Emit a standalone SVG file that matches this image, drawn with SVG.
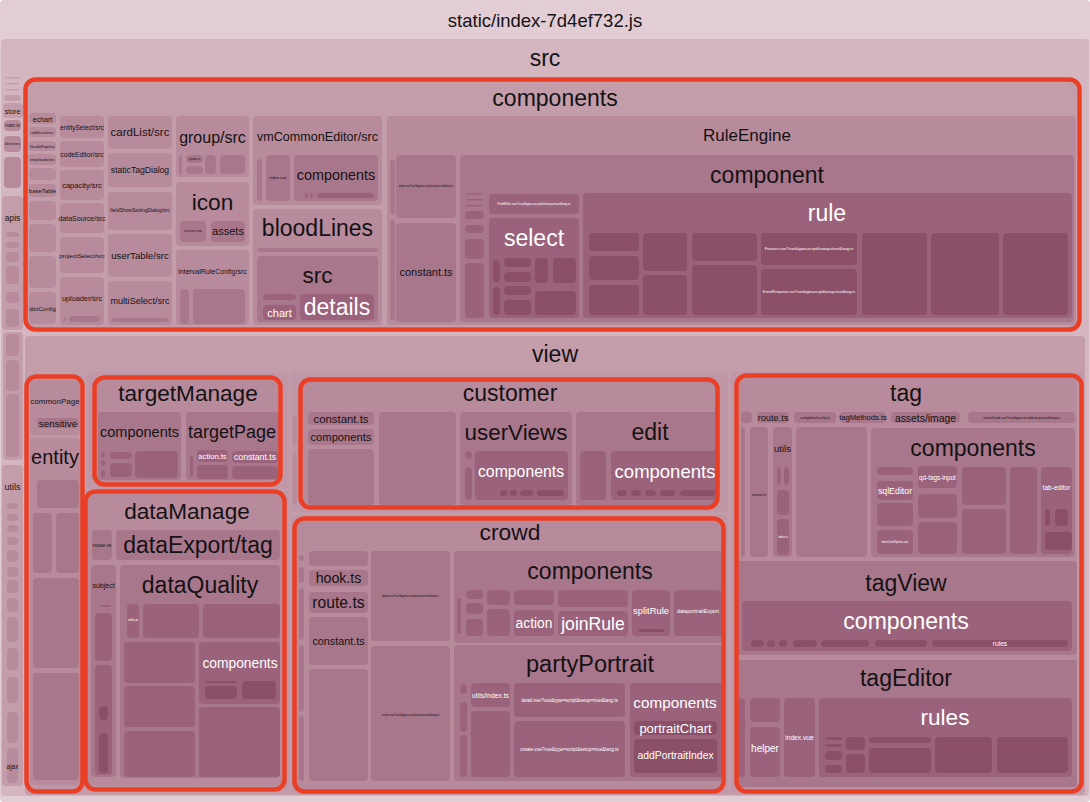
<svg xmlns="http://www.w3.org/2000/svg" width="1090" height="802" viewBox="0 0 1090 802">
<style>
rect{rx:4px;ry:4px}
.c0{fill:#e2cdd4}.c1{fill:#d4b6c0}.c2{fill:#c49dab}.c2b{fill:#bf97a6}.c3{fill:#b88b9c}.c4{fill:#a9778b}.c5{fill:#9b637b}.c6{fill:#8b5068}.c7{fill:#7e4560}
.hl{fill:none;stroke:#ea3f25;stroke-width:4.5;rx:10px;ry:10px}
text{font-family:"Liberation Sans",Arial,sans-serif;text-anchor:middle;dominant-baseline:central;fill:#141214}
.w{fill:#ffffff}
</style>
<rect class="c0" x="0" y="0" width="1090" height="802" rx="0"/>
<g id="bundle">
<text x="545" y="20" font-size="18.5">static/index-7d4ef732.js</text>
</g>
<g id="src">
<rect class="c1" x="1" y="39" width="1088" height="757"/>
<text x="545" y="58" font-size="23">src</text>
</g>
<g id="src-strip">
<rect class="c2" x="5" y="77" width="15" height="1.5"/>
<rect class="c2" x="5" y="83" width="15" height="1.5"/>
<rect class="c2" x="5" y="89" width="15" height="1.5"/>
<rect class="c2" x="4" y="95" width="17" height="6"/>
<rect class="c2" x="3" y="103" width="20" height="15"/>
<text x="12.5" y="111" font-size="7">store</text>
<rect class="c3" x="4" y="120" width="17" height="11"/>
<text x="12.5" y="125.5" font-size="4.5">main.ts</text>
<rect class="c3" x="4" y="136" width="17" height="16"/>
<text x="12.5" y="144" font-size="3.5">directives</text>
<rect class="c3" x="4" y="157" width="17" height="31"/>
<rect class="c2" x="2" y="196" width="21" height="134"/>
<text x="12.5" y="218" font-size="8.5">apis</text>
<rect class="c3" x="6" y="232" width="13" height="5"/>
<rect class="c3" x="6" y="242" width="13" height="6"/>
<rect class="c3" x="6" y="252" width="13" height="10"/>
<rect class="c3" x="6" y="266" width="13" height="18"/>
<rect class="c3" x="6" y="292" width="13" height="11"/>
<rect class="c3" x="6" y="309" width="13" height="18"/>
<rect class="c2" x="3" y="332" width="20" height="128"/>
<rect class="c3" x="6" y="334" width="13" height="22"/>
<rect class="c3" x="6" y="360" width="13" height="31"/>
<rect class="c3" x="6" y="394" width="13" height="63"/>
<rect class="c2" x="2" y="465" width="21" height="321"/>
<text x="12.5" y="487" font-size="9">utils</text>
<rect class="c3" x="7" y="503" width="11" height="6"/>
<rect class="c3" x="7" y="514" width="11" height="7"/>
<rect class="c3" x="7" y="525" width="11" height="7"/>
<rect class="c3" x="7" y="537" width="11" height="8"/>
<rect class="c3" x="7" y="550" width="11" height="12"/>
<rect class="c3" x="7" y="567" width="11" height="10"/>
<rect class="c3" x="7" y="580" width="11" height="13"/>
<rect class="c3" x="7" y="598" width="11" height="14"/>
<rect class="c3" x="7" y="617" width="11" height="25"/>
<rect class="c3" x="7" y="648" width="11" height="22"/>
<rect class="c3" x="7" y="677" width="11" height="26"/>
<rect class="c3" x="7" y="712" width="11" height="31"/>
<rect class="c3" x="7" y="748" width="11" height="35"/>
<text x="12.5" y="766" font-size="6.5">ajax</text>
</g>
<g id="components">
<rect class="c2" x="27" y="81" width="1050" height="246"/>
<text x="555" y="98" font-size="23">components</text>
<g id="col1">
<rect class="c3" x="29" y="113" width="27" height="11"/><text x="42.5" y="119" font-size="7">echart</text>
<rect class="c3" x="29" y="127" width="27" height="10"/><text x="42.5" y="132" font-size="4.4">editIcon/src</text>
<rect class="c3" x="29" y="141" width="27" height="10"/><text x="42.5" y="146" font-size="4.2">GuidePop/src</text>
<rect class="c3" x="29" y="154" width="27" height="11"/><text x="42.5" y="159.5" font-size="4">stepGuide/src</text>
<rect class="c3" x="29" y="168" width="27" height="12"/>
<rect class="c3" x="29" y="184" width="27" height="13"/><text x="42.5" y="190.5" font-size="6">baseTable</text>
<rect class="c3" x="29" y="201" width="27" height="19"/>
<rect class="c3" x="29" y="224" width="27" height="28"/>
<rect class="c3" x="29" y="256" width="27" height="32"/>
<rect class="c3" x="29" y="292" width="27" height="32"/><text x="42.5" y="309" font-size="6">dictConfig</text>
</g>
<g id="col2">
<rect class="c3" x="60" y="116" width="44" height="22"/><text x="82" y="127" font-size="6.5">entitySelect/src</text>
<rect class="c3" x="60" y="141" width="44" height="26"/><text x="82" y="154" font-size="6.8">codeEditor/src</text>
<rect class="c3" x="60" y="170" width="44" height="30"/><text x="82" y="185" font-size="7.5">capacity/src</text>
<rect class="c3" x="60" y="203" width="44" height="30"/><text x="82" y="218" font-size="7">dataSource/src</text>
<rect class="c3" x="60" y="237" width="44" height="36"/><text x="82" y="255" font-size="6.2">projectSelect/src</text>
<rect class="c3" x="60" y="277" width="44" height="48"/><text x="82" y="298" font-size="7.3">uploader/src</text>
<rect class="c4" x="64" y="317" width="2" height="4"/>
<rect class="c4" x="69" y="316" width="31" height="6"/>
</g>
<g id="col3">
<rect class="c3" x="108" y="116" width="64" height="33"/><text x="140" y="132" font-size="11.5">cardList/src</text>
<rect class="c3" x="108" y="153" width="64" height="34"/><text x="140" y="170" font-size="8.6">staticTagDialog</text>
<rect class="c3" x="108" y="192" width="64" height="38"/><text x="140" y="210" font-size="5">fieldShowSettingDialog/src</text>
<rect class="c3" x="108" y="234" width="64" height="43"/><text x="140" y="255" font-size="9.7">userTable/src</text>
<rect class="c3" x="108" y="281" width="64" height="44"/><text x="140" y="301" font-size="9.1">multiSelect/src</text>
<rect class="c4" x="112" y="318" width="56" height="4"/>
</g>
<g id="col4">
<rect class="c3" x="176" y="116" width="73" height="61"/><text x="212.5" y="137" font-size="16">group/src</text>
<rect class="c4" x="179" y="155" width="3" height="20"/>
<rect class="c4" x="186" y="155" width="17" height="8"/><text x="194.5" y="159" font-size="3.2">group.ts</text>
<rect class="c4" x="186" y="166" width="17" height="8"/>
<rect class="c4" x="205" y="155" width="11" height="19"/>
<rect class="c4" x="220" y="155" width="25" height="19"/>
<rect class="c3" x="176" y="182" width="73" height="64"/><text x="212.5" y="202" font-size="22.7">icon</text>
<rect class="c4" x="180" y="221" width="26" height="21"/><text x="193" y="231" font-size="3.3">src/icon.vue</text>
<rect class="c4" x="211" y="221" width="34" height="21"/><text x="228" y="231" font-size="11">assets</text>
<rect class="c3" x="176" y="250" width="73" height="75"/><text x="212.5" y="271" font-size="7">intervalRuleConfig/src</text>
<rect class="c4" x="180" y="289" width="9" height="35"/>
<rect class="c4" x="193" y="289" width="52" height="35"/>
</g>
<g id="vmCommonEditor">
<rect class="c3" x="253" y="116" width="129" height="89"/><text x="317.5" y="137" font-size="12.6">vmCommonEditor/src</text>
<rect class="c4" x="257" y="159" width="5" height="42"/>
<rect class="c4" x="266" y="155" width="24" height="46"/><text x="278" y="177" font-size="4">index.vue</text>
<rect class="c4" x="294" y="155" width="84" height="46"/><text x="336" y="175" font-size="14.4">components</text>
<rect class="c5" x="305" y="193" width="3" height="5"/>
<rect class="c5" x="310" y="193" width="3" height="5"/>
<rect class="c5" x="317" y="193" width="57" height="5"/>
</g>
<g id="bloodLines">
<rect class="c3" x="253" y="209" width="129" height="116"/><text x="317.5" y="228" font-size="23">bloodLines</text>
<rect class="c4" x="257" y="248" width="121" height="4"/>
<rect class="c4" x="257" y="256" width="121" height="66"/><text x="317.5" y="275" font-size="22.5">src</text>
<rect class="c5" x="263" y="294" width="33" height="6"/>
<rect class="c5" x="263" y="305" width="33" height="15"/><text class="w" x="279.5" y="312.5" font-size="11">chart</text>
<rect class="c5" x="300" y="294" width="74" height="26"/><text class="w" x="337" y="307" font-size="23">details</text>
</g>
<g id="RuleEngine">
<rect class="c3" x="387" y="116" width="689" height="209"/><text x="747" y="135" font-size="17">RuleEngine</text>
<rect class="c4" x="390" y="160" width="5" height="55"/>
<rect class="c4" x="390" y="220" width="5" height="100"/>
<rect class="c4" x="396" y="155" width="60" height="63"/><text x="426" y="186" font-size="2.6">index.vue?vue&amp;type=script&amp;setup=true&amp;lang.ts</text>
<rect class="c4" x="396" y="223" width="60" height="99"/><text x="426" y="272" font-size="11">constant.ts</text>
<g id="component">
<rect class="c4" x="460" y="155" width="614" height="167"/><text x="767" y="175" font-size="23">component</text>
<rect class="c5" x="466" y="193" width="17" height="1.5"/>
<rect class="c5" x="466" y="199" width="17" height="1.5"/>
<rect class="c5" x="466" y="205" width="17" height="1.5"/>
<rect class="c5" x="465" y="211" width="19" height="8"/>
<rect class="c5" x="465" y="225" width="19" height="8"/>
<rect class="c5" x="465" y="239" width="19" height="20"/>
<rect class="c5" x="465" y="263" width="19" height="55"/>
<rect class="c5" x="489" y="194" width="90" height="20"/><text class="w" x="534" y="204" font-size="3.2">FieldRule.vue?vue&amp;type=script&amp;setup=true&amp;lang.ts</text>
<g id="select">
<rect class="c5" x="489" y="218" width="90" height="100"/><text class="w" x="534" y="238" font-size="23">select</text>
<rect class="c6" x="493" y="260" width="7" height="22"/>
<rect class="c6" x="493" y="287" width="7" height="28"/>
<rect class="c6" x="504" y="258" width="27" height="9"/>
<rect class="c6" x="504" y="272" width="27" height="10"/>
<rect class="c6" x="504" y="286" width="27" height="9"/>
<rect class="c6" x="504" y="300" width="27" height="15"/>
<rect class="c6" x="535" y="258" width="13" height="25"/>
<rect class="c6" x="553" y="258" width="23" height="25"/>
<rect class="c6" x="535" y="291" width="41" height="24"/>
</g>
<g id="rule">
<rect class="c5" x="583" y="193" width="489" height="125"/><text class="w" x="827" y="213" font-size="23">rule</text>
<rect class="c6" x="589" y="233" width="50" height="18"/>
<rect class="c6" x="589" y="256" width="50" height="24"/>
<rect class="c6" x="589" y="285" width="50" height="30"/>
<rect class="c6" x="643" y="233" width="44" height="38"/>
<rect class="c6" x="643" y="275" width="44" height="40"/>
<rect class="c6" x="692" y="233" width="65" height="28"/>
<rect class="c6" x="692" y="265" width="65" height="50"/>
<rect class="c6" x="761" y="233" width="96" height="32"/><text class="w" x="809" y="248" font-size="4">Feature.vue?vue&amp;type=script&amp;setup=true&amp;lang.ts</text>
<rect class="c6" x="761" y="269" width="96" height="46"/><text class="w" x="809" y="292" font-size="3.6">EventResponse.vue?vue&amp;type=script&amp;setup=true&amp;lang.ts</text>
<rect class="c6" x="862" y="233" width="65" height="82"/>
<rect class="c6" x="931" y="233" width="68" height="82"/>
<rect class="c6" x="1003" y="233" width="65" height="82"/>
</g>
</g>
</g>
</g>
<g id="view">
<rect class="c2" x="25" y="336" width="1060" height="459"/>
<text x="555" y="354" font-size="23">view</text>
</g>
<g id="entity-col">
<rect class="c2b" x="28" y="375" width="56" height="415"/>
<rect class="c3" x="30" y="380" width="50" height="55"/>
<text x="55" y="401" font-size="8">commonPage</text>
<rect class="c4" x="37" y="418" width="42" height="10"/><text x="58" y="423" font-size="9.9">sensitive</text>
<g id="entity">
<rect class="c3" x="30" y="438" width="50" height="347"/><text x="55" y="457" font-size="20">entity</text>
<rect class="c4" x="37" y="480" width="42" height="28"/>
<rect class="c4" x="33" y="513" width="19" height="60"/>
<rect class="c4" x="56" y="513" width="23" height="60"/>
<rect class="c4" x="33" y="578" width="46" height="90"/>
<rect class="c4" x="33" y="673" width="46" height="107"/>
</g>
</g>
<g id="targetManage">
<rect class="c2b" x="87" y="372" width="202" height="117"/>
<rect class="c3" x="96" y="380" width="182" height="102"/><text x="188" y="393" font-size="22.6">targetManage</text>
<rect class="c4" x="98" y="412" width="83" height="68"/><text x="139.5" y="432" font-size="14.5">components</text>
<rect class="c5" x="101" y="452" width="4" height="5"/>
<rect class="c5" x="101" y="460" width="4" height="6"/>
<rect class="c5" x="101" y="470" width="4" height="8"/>
<rect class="c5" x="110" y="452" width="22" height="7"/>
<rect class="c5" x="110" y="463" width="22" height="14"/>
<rect class="c5" x="135" y="451" width="43" height="27"/>
<rect class="c4" x="186" y="412" width="94" height="68"/><text x="232" y="432" font-size="18">targetPage</text>
<rect class="c5" x="190" y="455" width="3" height="22"/>
<rect class="c5" x="197" y="450" width="31" height="12"/><text class="w" x="212.5" y="456" font-size="7.6">action.ts</text>
<rect class="c5" x="232" y="451" width="46" height="12"/><text class="w" x="255" y="457" font-size="8.7">constant.ts</text>
<rect class="c5" x="197" y="465" width="31" height="14"/>
<rect class="c5" x="232" y="466" width="46" height="13"/>
</g>
<g id="dataManage">
<rect class="c2b" x="86" y="490" width="203" height="300"/>
<rect class="c3" x="88" y="494" width="194" height="292"/><text x="187" y="511" font-size="22.6">dataManage</text>
<rect class="c4" x="92" y="530" width="20" height="30"/><text x="102" y="545" font-size="5.5">route.ts</text>
<rect class="c4" x="116" y="530" width="164" height="30"/><text x="198" y="545" font-size="23">dataExport/tag</text>
<rect class="c4" x="91" y="565" width="25" height="212"/><text x="103.5" y="585" font-size="7">subject</text>
<rect class="c5" x="99" y="605" width="12" height="2"/>
<rect class="c5" x="95" y="613" width="17" height="48"/>
<rect class="c5" x="95" y="665" width="17" height="110"/>
<rect class="c6" x="99" y="706" width="9" height="14"/>
<rect class="c6" x="99" y="733" width="9" height="40"/>
<g id="dataQuality">
<rect class="c4" x="120" y="565" width="160" height="213"/><text x="200" y="585" font-size="23">dataQuality</text>
<rect class="c5" x="127" y="604" width="12" height="34"/><text class="w" x="133" y="620" font-size="3.8">utils.js</text>
<rect class="c5" x="143" y="604" width="56" height="34"/>
<rect class="c5" x="203" y="604" width="77" height="34"/>
<rect class="c5" x="124" y="642" width="71" height="41"/>
<rect class="c5" x="124" y="686" width="71" height="41"/>
<rect class="c5" x="124" y="731" width="71" height="46"/>
<rect class="c5" x="199" y="642" width="81" height="62"/><text class="w" x="240" y="663" font-size="13.8">components</text>
<rect class="c6" x="205" y="681" width="32" height="2"/>
<rect class="c6" x="205" y="686" width="32" height="13"/>
<rect class="c6" x="242" y="681" width="34" height="18"/>
<rect class="c5" x="199" y="707" width="81" height="70"/>
</g>
</g>
<g id="customer">
<rect class="c2b" x="291" y="372" width="437" height="140"/>
<rect class="c3" x="293" y="415" width="4" height="30"/>
<rect class="c3" x="293" y="453" width="4" height="52"/>
<rect class="c3" x="301" y="380" width="415" height="126"/><text x="510" y="393" font-size="23">customer</text>
<rect class="c4" x="308" y="412" width="66" height="13"/><text x="341" y="418.5" font-size="11.4">constant.ts</text>
<rect class="c4" x="308" y="429" width="66" height="16"/><text x="341" y="437" font-size="11.2">components</text>
<rect class="c4" x="308" y="449" width="66" height="56"/>
<rect class="c4" x="379" y="412" width="77" height="93"/>
<g id="userViews">
<rect class="c4" x="460" y="412" width="112" height="93"/><text x="516" y="432" font-size="22.4">userViews</text>
<rect class="c5" x="465" y="451" width="7" height="8"/>
<rect class="c5" x="465" y="467" width="7" height="33"/>
<rect class="c5" x="475" y="451" width="93" height="49"/><text class="w" x="521" y="471" font-size="15.8">components</text>
<rect class="c6" x="500" y="490" width="7" height="6"/>
<rect class="c6" x="510" y="490" width="7" height="6"/>
<rect class="c6" x="520" y="490" width="13" height="6"/>
<rect class="c6" x="537" y="490" width="27" height="6"/>
</g>
<g id="edit">
<rect class="c4" x="576" y="412" width="142" height="93"/><text x="650" y="432" font-size="23">edit</text>
<rect class="c5" x="580" y="451" width="26" height="49"/>
<rect class="c5" x="611" y="451" width="107" height="49"/><text class="w" x="665" y="471" font-size="18.5">components</text>
<rect class="c6" x="617" y="490" width="10" height="6"/>
<rect class="c6" x="631" y="490" width="10" height="6"/>
<rect class="c6" x="645" y="490" width="11" height="6"/>
<rect class="c6" x="660" y="490" width="15" height="6"/>
<rect class="c6" x="680" y="490" width="35" height="6"/>
</g>
</g>
<g id="crowd">
<rect class="c2b" x="291" y="515" width="437" height="278"/>
<rect class="c3" x="297" y="521" width="425" height="268"/><text x="510" y="532" font-size="22.8">crowd</text>
<rect class="c4" x="299" y="555" width="5" height="6"/>
<rect class="c4" x="299" y="567" width="5" height="16"/>
<rect class="c4" x="299" y="588" width="5" height="52"/>
<rect class="c4" x="299" y="645" width="5" height="67"/>
<rect class="c4" x="299" y="715" width="5" height="66"/>
<rect class="c4" x="309" y="551" width="59" height="15"/>
<rect class="c4" x="309" y="570" width="59" height="16"/><text x="338.5" y="578" font-size="14.2">hook.ts</text>
<rect class="c4" x="309" y="592" width="59" height="21"/><text x="338.5" y="602" font-size="15.7">route.ts</text>
<rect class="c4" x="309" y="617" width="59" height="48"/><text x="338.5" y="641" font-size="10.8">constant.ts</text>
<rect class="c4" x="309" y="669" width="59" height="112"/>
<rect class="c4" x="371" y="551" width="79" height="90"/><text x="410.5" y="596" font-size="2.7">detail.vue?vue&amp;type=script&amp;setup=true&amp;lang.ts</text>
<rect class="c4" x="371" y="646" width="79" height="135"/><text x="410.5" y="715" font-size="2.7">create.vue?vue&amp;type=script&amp;setup=true&amp;lang.ts</text>
<g id="crowd-components">
<rect class="c4" x="454" y="551" width="268" height="92"/><text x="590" y="571" font-size="23">components</text>
<rect class="c5" x="457" y="598" width="4" height="36"/>
<rect class="c5" x="466" y="590" width="17" height="9"/>
<rect class="c5" x="466" y="603" width="17" height="11"/>
<rect class="c5" x="466" y="619" width="17" height="17"/>
<rect class="c5" x="487" y="590" width="23" height="15"/>
<rect class="c5" x="487" y="609" width="23" height="27"/>
<rect class="c5" x="514" y="590" width="40" height="15"/>
<rect class="c5" x="514" y="610" width="40" height="26"/><text class="w" x="534" y="623" font-size="13.8">action</text>
<rect class="c5" x="558" y="590" width="70" height="17"/>
<rect class="c5" x="558" y="611" width="70" height="25"/><text class="w" x="593" y="623.5" font-size="17.6">joinRule</text>
<rect class="c5" x="632" y="590" width="38" height="46"/><text class="w" x="651" y="610" font-size="9.4">splitRule</text>
<rect class="c6" x="638" y="629" width="27" height="3"/>
<rect class="c5" x="674" y="590" width="48" height="46"/><text class="w" x="698" y="611" font-size="5.3">dataportraitExport</text>
</g>
<g id="partyPortrait">
<rect class="c4" x="454" y="645" width="268" height="136"/><text x="590" y="664" font-size="23.5">partyPortrait</text>
<rect class="c5" x="460" y="684" width="7" height="10"/>
<rect class="c5" x="460" y="702" width="7" height="30"/>
<rect class="c5" x="460" y="735" width="7" height="42"/>
<rect class="c5" x="471" y="683" width="39" height="24"/><text class="w" x="490.5" y="695" font-size="6.7">utils/index.ts</text>
<rect class="c5" x="471" y="711" width="39" height="66"/>
<rect class="c5" x="514" y="683" width="111" height="34"/><text class="w" x="569.5" y="700" font-size="4.6">detail.vue?vue&amp;type=script&amp;setup=true&amp;lang.ts</text>
<rect class="c5" x="514" y="721" width="111" height="56"/><text class="w" x="569.5" y="749" font-size="4.6">create.vue?vue&amp;type=script&amp;setup=true&amp;lang.ts</text>
<rect class="c5" x="630" y="683" width="92" height="94"/><text class="w" x="675" y="702" font-size="15.3">components</text>
<rect class="c6" x="634" y="721" width="83" height="14"/><text class="w" x="675.5" y="728" font-size="13">portraitChart</text>
<rect class="c6" x="634" y="739" width="83" height="34"/><text class="w" x="675.5" y="755" font-size="10.4">addPortraitIndex</text>
</g>
</g>
<g id="tag">
<rect class="c2b" x="731" y="372" width="352" height="420"/>
<rect class="c3" x="737" y="377" width="340" height="411"/><text x="906" y="393" font-size="23">tag</text>
<rect class="c4" x="741" y="412" width="11" height="11"/>
<rect class="c4" x="757" y="412" width="32" height="11"/><text x="773" y="417.5" font-size="9.2">route.ts</text>
<rect class="c4" x="794" y="412" width="42" height="11"/><text x="815" y="417.5" font-size="3.2">config/detail.config.ts</text>
<rect class="c4" x="840" y="412" width="46" height="11"/><text x="863" y="417.5" font-size="7.6">tagMethods.ts</text>
<rect class="c4" x="891" y="412" width="69" height="11"/><text x="925.5" y="418" font-size="10.4">assets/image</text>
<rect class="c4" x="968" y="412" width="107" height="11"/><text x="1021.5" y="417.5" font-size="3.2">createGuide.vue?vue&amp;type=script&amp;setup=true&amp;lang.ts</text>
<rect class="c4" x="741" y="427" width="4" height="130"/>
<rect class="c4" x="750" y="427" width="18" height="130"/><text x="759" y="495" font-size="3">constant.ts</text>
<rect class="c4" x="773" y="427" width="19" height="130"/><text x="782.5" y="448" font-size="9.6">utils</text>
<rect class="c5" x="777" y="467" width="4" height="18"/>
<rect class="c5" x="784" y="467" width="5" height="18"/>
<rect class="c5" x="777" y="490" width="12" height="25"/>
<rect class="c5" x="777" y="519" width="12" height="36"/><text class="w" x="783" y="537" font-size="2.8">index.ts</text>
<rect class="c4" x="796" y="427" width="71" height="130"/>
<g id="tag-components">
<rect class="c4" x="871" y="428" width="204" height="129"/><text x="973" y="448" font-size="23">components</text>
<rect class="c5" x="877" y="467" width="36" height="8"/>
<rect class="c5" x="877" y="481" width="36" height="19"/><text class="w" x="895" y="490.5" font-size="8.8">sqlEditor</text>
<rect class="c5" x="877" y="503" width="36" height="23"/>
<rect class="c5" x="877" y="530" width="36" height="24"/><text class="w" x="895" y="542" font-size="3">timeConfOption.vue</text>
<rect class="c5" x="918" y="466" width="39" height="22"/><text class="w" x="937.5" y="477" font-size="6.3">qd-tags-input</text>
<rect class="c5" x="918" y="494" width="39" height="24"/>
<rect class="c5" x="918" y="522" width="39" height="32"/>
<rect class="c5" x="962" y="467" width="44" height="38"/>
<rect class="c5" x="962" y="509" width="44" height="45"/>
<rect class="c5" x="1010" y="467" width="27" height="87"/>
<rect class="c5" x="1041" y="467" width="31" height="87"/><text class="w" x="1056.5" y="487" font-size="6.6">tab-editor</text>
<rect class="c6" x="1045" y="509" width="5" height="17"/>
<rect class="c6" x="1055" y="509" width="13" height="17"/>
<rect class="c6" x="1045" y="532" width="27" height="18"/>
</g>
<g id="tagView">
<rect class="c4" x="737" y="561" width="340" height="94"/><text x="906" y="583" font-size="23">tagView</text>
<rect class="c5" x="742" y="601" width="330" height="50"/><text class="w" x="906" y="621" font-size="23">components</text>
<rect class="c6" x="751" y="640" width="13" height="7"/>
<rect class="c6" x="767" y="640" width="8" height="7"/>
<rect class="c6" x="779" y="640" width="8" height="7"/>
<rect class="c6" x="793" y="640" width="24" height="7"/>
<rect class="c6" x="821" y="640" width="48" height="7"/>
<rect class="c6" x="875" y="640" width="52" height="7"/>
<rect class="c6" x="932" y="640" width="136" height="7"/><text class="w" x="1000" y="643.5" font-size="6.6">rules</text>
</g>
<g id="tagEditor">
<rect class="c4" x="737" y="660" width="340" height="127"/><text x="906" y="678" font-size="23">tagEditor</text>
<rect class="c5" x="737" y="698" width="8" height="79"/>
<rect class="c5" x="750" y="698" width="30" height="24"/>
<rect class="c5" x="750" y="727" width="30" height="50"/><text class="w" x="765" y="748" font-size="10">helper</text>
<rect class="c5" x="784" y="698" width="31" height="79"/><text class="w" x="799.5" y="737" font-size="6.7">index.vue</text>
<rect class="c5" x="819" y="698" width="253" height="79"/><text class="w" x="945" y="717" font-size="22.6">rules</text>
<rect class="c6" x="825" y="737" width="17" height="3"/>
<rect class="c6" x="825" y="744" width="17" height="3"/>
<rect class="c6" x="825" y="751" width="17" height="9"/>
<rect class="c6" x="825" y="765" width="17" height="8"/>
<rect class="c6" x="846" y="737" width="19" height="13"/>
<rect class="c6" x="846" y="754" width="19" height="19"/>
<rect class="c6" x="869" y="737" width="62" height="6"/>
<rect class="c6" x="869" y="748" width="62" height="25"/>
<rect class="c6" x="935" y="737" width="57" height="36"/>
<rect class="c6" x="997" y="737" width="71" height="36"/>
</g>
</g>
<g id="highlights">
<rect class="hl" x="25.5" y="79.5" width="1054" height="250"/>
<rect class="hl" x="26.5" y="376.5" width="56" height="415"/>
<rect class="hl" x="94.5" y="377.5" width="186" height="107"/>
<rect class="hl" x="85.5" y="491.5" width="199" height="298"/>
<rect class="hl" x="300.5" y="379.5" width="417" height="128"/>
<rect class="hl" x="294.5" y="518.5" width="429" height="273"/>
<rect class="hl" x="736.5" y="375.5" width="345" height="416"/>
</g>
</svg>
